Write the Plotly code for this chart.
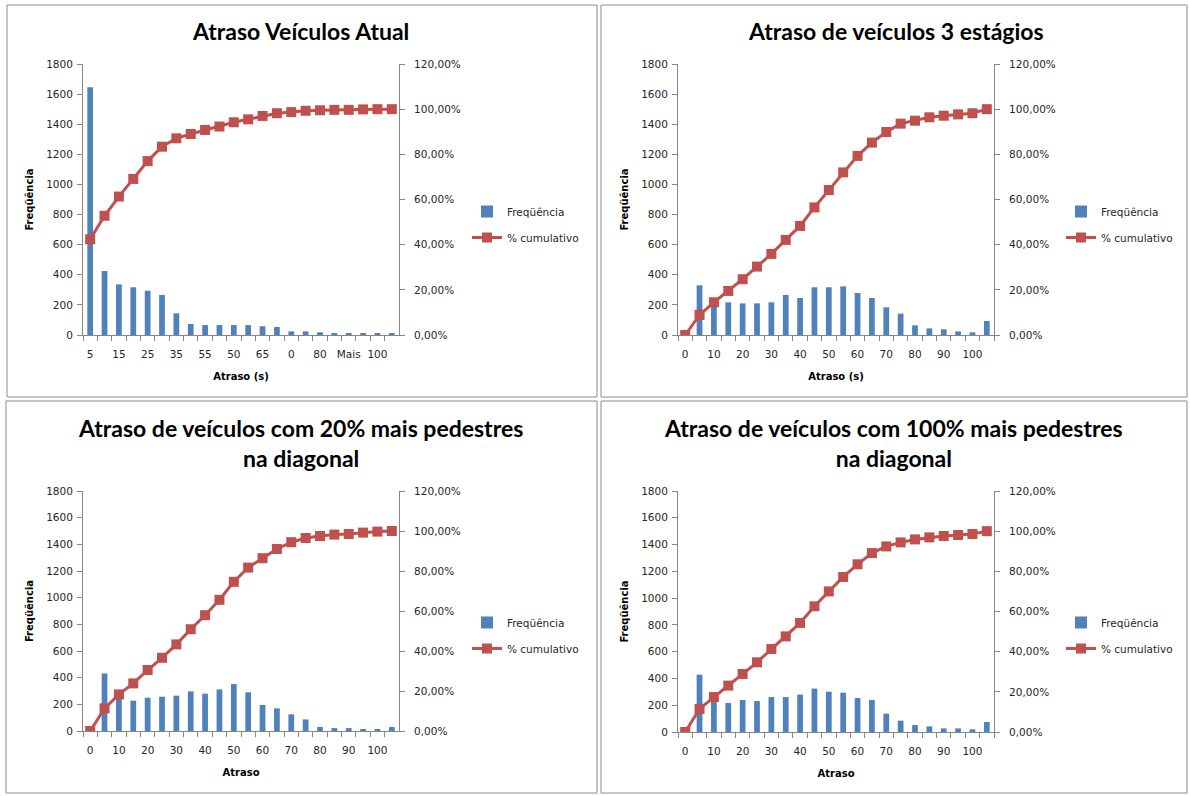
import plotly.graph_objects as go

# ---------------- data ----------------
titles = [
    "Atraso Veículos Atual",
    "Atraso de veículos 3 estágios",
    "Atraso de veículos com 20% mais pedestres<br>na diagonal",
    "Atraso de veículos com 100% mais pedestres<br>na diagonal",
]
x_titles = ["Atraso (s)", "Atraso (s)", "Atraso", "Atraso"]
y_title = "Freqüência"
bar_name = "Freqüência"
line_name = "% cumulativo"

cats_atual = ["5", "10", "15", "20", "25", "30", "35", "40", "55", "45", "50",
              "60", "65", "70", "0", "75", "80", "85", "Mais", "90", "100", "95"]
cats_bins = ["0", "5", "10", "15", "20", "25", "30", "35", "40", "45", "50",
             "55", "60", "65", "70", "75", "80", "85", "90", "95", "100", "Mais"]

freq_atual = [1645, 425, 336, 317, 294, 266, 144, 73, 66, 66, 66,
              66, 58, 53, 24, 24, 18, 11, 10, 10, 10, 10]
cum_atual = [0.424, 0.528, 0.613, 0.691, 0.770, 0.834, 0.871, 0.890, 0.908, 0.923, 0.942,
             0.955, 0.970, 0.982, 0.987, 0.993, 0.995, 0.997, 0.997, 0.999, 1.000, 1.000]

freq_3est = [0, 330, 212, 217, 210, 210, 217, 266, 246, 317, 317,
             323, 279, 246, 184, 142, 64, 44, 38, 24, 18, 93]
cum_3est = [0.0, 0.089, 0.145, 0.195, 0.247, 0.303, 0.359, 0.421, 0.483, 0.565, 0.642,
            0.720, 0.793, 0.852, 0.899, 0.936, 0.949, 0.964, 0.971, 0.977, 0.982, 1.000]

freq_20 = [0, 432, 250, 227, 250, 257, 265, 297, 280, 312, 352,
           290, 195, 170, 125, 87, 30, 22, 22, 15, 15, 30]
cum_20 = [0.0, 0.113, 0.183, 0.238, 0.305, 0.366, 0.433, 0.509, 0.579, 0.656, 0.746,
          0.817, 0.864, 0.910, 0.944, 0.965, 0.975, 0.982, 0.985, 0.992, 0.997, 1.000]

freq_100 = [0, 428, 235, 217, 239, 231, 261, 261, 279, 324, 301,
            294, 254, 239, 137, 85, 52, 42, 27, 27, 20, 75]
cum_100 = [0.0, 0.115, 0.174, 0.231, 0.289, 0.347, 0.413, 0.476, 0.543, 0.626, 0.700,
           0.772, 0.835, 0.891, 0.924, 0.944, 0.959, 0.969, 0.976, 0.981, 0.986, 1.000]

panels = [
    (cats_atual, freq_atual, cum_atual),
    (cats_bins, freq_3est, cum_3est),
    (cats_bins, freq_20, cum_20),
    (cats_bins, freq_100, cum_100),
]

# ---------------- layout geometry (pixels) ----------------
W, H = 1190, 796
BAR_COLOR = "#4F81BD"
LINE_COLOR = "#C0504D"
AXIS_COLOR = "#868686"
TICK_FONT = dict(family="DejaVu Sans", size=10.5, color="#262626")
TITLE_FONT = dict(family="Lato", size=23, color="#000000")
AXTITLE_FONT = dict(family="DejaVu Sans", size=10, color="#000000")

# plot area boxes: (x0, x1, ytop, ybottom)
boxes = [
    (83, 399, 64, 335),
    (678, 994, 64, 335),
    (83, 399, 491, 731),
    (678, 994, 491, 732),
]
title_pos = [(300, 31), (896, 31), (300, 443), (893, 443)]
legend_pos = [(467, 197), (1061, 197), (467, 608), (1061, 608)]
panel_rects = [(7, 597, 5, 397), (601, 1187, 5, 397), (6, 597, 401, 793), (601, 1187, 401, 793)]


def px(x):
    return x / W


def py(y):
    return 1 - y / H


fig = go.Figure()
layout = dict(
    width=W, height=H,
    margin=dict(l=0, r=0, t=0, b=0, autoexpand=False),
    paper_bgcolor="white", plot_bgcolor="white",
    separators=",.",
    showlegend=True,
    annotations=[], shapes=[],
)

for i, (cats, freq, cum) in enumerate(panels):
    k = i + 1
    xa = "x" if k == 1 else f"x{k}"
    yl_n = 2 * k - 1
    yr_n = 2 * k
    yl = "y" if yl_n == 1 else f"y{yl_n}"
    yr = f"y{yr_n}"
    leg = "legend" if k == 1 else f"legend{k}"

    fig.add_trace(go.Bar(
        x=cats, y=freq, name=bar_name, marker=dict(color=BAR_COLOR, line=dict(width=0)),
        xaxis=xa, yaxis=yl, legend=leg, legendgroup=f"b{k}",
    ))
    fig.add_trace(go.Scatter(
        x=cats, y=cum, name=line_name, mode="lines+markers",
        line=dict(color=LINE_COLOR, width=3),
        marker=dict(symbol="square", size=10, color=LINE_COLOR),
        xaxis=xa, yaxis=yr, legend=leg, legendgroup=f"l{k}",
    ))

    x0, x1, yt, yb = boxes[i]
    ticktext = [c if j % 2 == 0 else "" for j, c in enumerate(cats)]
    layout["xaxis" if k == 1 else f"xaxis{k}"] = dict(
        domain=[px(x0), px(x1)], anchor=yl, type="category",
        categoryorder="array", categoryarray=cats,
        range=[-0.5, len(cats) - 0.5],
        tickmode="array", tickvals=cats, ticktext=ticktext, tickangle=0,
        tickson="boundaries", ticks="outside", ticklen=5, tickcolor=AXIS_COLOR,
        ticklabelstandoff=9,
        showline=True, linecolor=AXIS_COLOR, linewidth=1, automargin=False,
        showgrid=False, zeroline=False, tickfont=TICK_FONT,
        title=dict(text=f"<b>{x_titles[i]}</b>", font=AXTITLE_FONT, standoff=14),
    )
    layout["yaxis" if yl_n == 1 else f"yaxis{yl_n}"] = dict(
        domain=[py(yb), py(yt)], anchor=xa, range=[0, 1800], dtick=200, tick0=0,
        ticks="outside", ticklen=5, tickcolor=AXIS_COLOR, automargin=False,
        ticklabelstandoff=2,
        showline=True, linecolor=AXIS_COLOR, linewidth=1,
        showgrid=False, zeroline=False, tickfont=TICK_FONT,
        title=dict(text=f"<b>{y_title}</b>", font=AXTITLE_FONT, standoff=10),
    )
    layout[f"yaxis{yr_n}"] = dict(
        overlaying=yl, anchor=xa, side="right", range=[0, 1.2], dtick=0.2, tick0=0,
        tickformat=".2%", automargin=False, ticklabelstandoff=7,
        ticks="outside", ticklen=5, tickcolor=AXIS_COLOR,
        showline=True, linecolor=AXIS_COLOR, linewidth=1,
        showgrid=False, zeroline=False, tickfont=TICK_FONT,
    )
    lx, ly = legend_pos[i]
    layout[leg] = dict(
        x=px(lx), y=py(ly), xanchor="left", yanchor="top",
        bgcolor="rgba(0,0,0,0)", font=dict(family="DejaVu Sans", size=10.5, color="#262626"),
        traceorder="grouped", tracegroupgap=7, itemwidth=30,
    )
    tx, ty = title_pos[i]
    layout["annotations"].append(dict(
        text=f"<b>{titles[i]}</b>", x=px(tx), y=py(ty), xref="paper", yref="paper",
        xanchor="center", yanchor="middle", showarrow=False, font=TITLE_FONT,
    ))
    rx0, rx1, ry0, ry1 = panel_rects[i]
    layout["shapes"].append(dict(
        type="rect", xref="paper", yref="paper", x0=px(rx0), x1=px(rx1), y0=py(ry1), y1=py(ry0),
        line=dict(color="#8C8C8C", width=1), fillcolor="rgba(0,0,0,0)", layer="below",
    ))

layout["bargap"] = 0.6
fig.update_layout(**layout)

fig.write_html("out.html", config={"displayModeBar": False},
               post_script="document.body.style.margin='0';")
